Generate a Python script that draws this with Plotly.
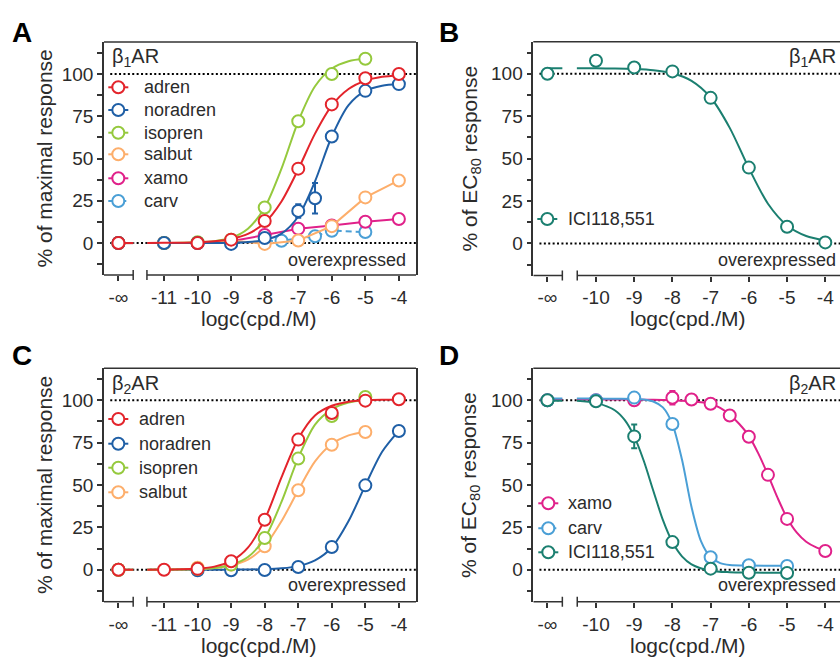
import plotly.graph_objects as go

W, H = 840, 659
FONT = "Liberation Sans, Arial, sans-serif"
TXT = "#2b2b2b"
AX = "#333333"

# ---------------- axis structure (log units) ----------------
NEG_INF_AC, BREAK_END_AC, BREAK_START_AC = -12.36, -11.92, -11.51
XRANGE_AC = [-12.79, -3.49]
NEG_INF_BD, BREAK_END_BD, BREAK_START_BD = -11.27, -10.88, -10.49
XRANGE_BD = [-11.64, -3.615]
YRANGE = [-18.9, 118.9]
TICKS_AC = [-11, -10, -9, -8, -7, -6, -5, -4]
TICKS_BD = [-10, -9, -8, -7, -6, -5, -4]

COL = {"adren": "#e3242b", "noradren": "#1f5fa6", "isopren": "#95c93d",
       "salbut": "#fdae6b", "xamo": "#e0218a", "carv": "#4a9fd6",
       "ICI118,551": "#1b7f70"}

# ---------------- Panel A: beta1AR agonists ----------------
A_adren_x = [-10, -9, -8, -7, -6, -5, -4]
A_adren_y = [0, 2, 13, 44, 82, 97.5, 100]
A_noradren_x = [-11, -10, -9, -8, -7, -6.5, -6, -5, -4]
A_noradren_y = [0, 0, -0.5, 3, 19, 26.5, 63, 90, 94]
A_noradren_err = [0, 0, 0, 0, 4, 9, 0, 0, 0]
A_isopren_x = [-11, -10, -9, -8, -7, -6, -5]
A_isopren_y = [0, 0.5, 2, 21, 72, 100, 109]
A_salbut_x = [-11, -10, -9, -8, -7, -6, -5, -4]
A_salbut_y = [0, 0, 1.5, -0.5, 1.5, 10, 27, 37]
A_xamo_x = [-11, -10, -9, -8, -7, -6, -5, -4]
A_xamo_y = [0, 0, 1, 4.8, 8.5, 10.4, 12.6, 14.2]
A_carv_x = [-11, -10, -9, -7.5, -6.5, -6, -5]
A_carv_y = [0, 0, 0, 1.4, 4, 7.3, 6.5]
A_ninf_y = 0

# fitted curves
A_curve_x = [-11.5, -11, -10.5, -10, -9.5, -9, -8.5, -8, -7.5, -7, -6.5, -6, -5.5, -5, -4.5, -4]
A_adren_fit = [0, 0.1, 0.2, 0.4, 1.0, 2.4, 5.4, 12, 24.6, 43.6, 64.7, 81.3, 91.1, 96, 98.3, 99.3]
A_noradren_fit = [0, 0, 0, 0, 0.06, 0.19, 0.59, 1.85, 5.6, 15.7, 36.5, 63.0, 81.6, 90.0, 93.0, 94.0]
A_isopren_fit_x = [-11.5, -11, -10.5, -10, -9.5, -9, -8.5, -8, -7.5, -7, -6.5, -6, -5.5, -5]
A_isopren_fit = [0.02, 0.05, 0.14, 0.4, 1.1, 3.1, 8.5, 21, 44, 72, 92.7, 103.2, 107.5, 109.1]

# ---------------- Panel B: beta1AR antagonist ----------------
B_x = [-10, -9, -8, -7, -6, -5, -4]
B_ici_y = [107.7, 103.7, 101.4, 85.8, 44.7, 9.8, 0.6]
B_ninf_y = 100
B_curve_x = [-10.5, -10, -9.5, -9, -8.5, -8, -7.5, -7, -6.5, -6, -5.5, -5, -4.5, -4]
B_ici_fit = [103.3, 103.2, 103.1, 102.8, 102.1, 100.3, 95.8, 86.0, 68.1, 44.4, 23.4, 10.6, 4.4, 1.75]

# ---------------- Panel C: beta2AR agonists ----------------
C_adren_x = [-11, -10, -9, -8, -7, -6, -5, -4]
C_adren_y = [0, 0.5, 5, 29.5, 76.8, 92.5, 99.8, 100.6]
C_noradren_x = [-10, -9, -8, -7, -6, -5, -4]
C_noradren_y = [-0.4, -0.3, -0.2, 1.6, 13.4, 49.8, 81.9]
C_isopren_x = [-10, -9, -8, -7, -6, -5]
C_isopren_y = [0.5, 3, 18.7, 65.6, 90.7, 102]
C_salbut_x = [-10, -9, -8, -7, -6, -5]
C_salbut_y = [1.2, 3, 13.8, 46.9, 73.8, 81.3]
C_ninf_y = 0
C_curve_x = [-11.5, -11, -10.5, -10, -9.5, -9, -8.5, -8, -7.5, -7, -6.5, -6, -5.5, -5, -4.5, -4]
C_adren_fit = [0.03, 0.08, 0.2, 0.66, 1.8, 5.0, 13.0, 29.6, 54.5, 77.3, 91.1, 96.8, 99.2, 100.0, 100.3, 100.4]
C_noradren_fit = [0, 0, 0, 0.01, 0.02, 0.04, 0.12, 0.3, 0.8, 2.1, 5.5, 13.1, 28.7, 49.8, 69.6, 82.1]
C_short_x = [-11.5, -11, -10.5, -10, -9.5, -9, -8.5, -8, -7.5, -7, -6.5, -6, -5.5, -5]
C_isopren_fit = [0.02, 0.04, 0.12, 0.35, 1.0, 2.8, 7.5, 18.5, 40.0, 66.0, 85.7, 94.7, 98.7, 100.2]
C_salbut_fit = [0.02, 0.06, 0.15, 0.39, 1.0, 2.5, 6.0, 13.9, 28.6, 46.9, 63.9, 74.2, 79.3, 81.5]

# ---------------- Panel D: beta2AR antagonists ----------------
D_xamo_x = [-10, -9, -8, -7.5, -7, -6.5, -6, -5.5, -5, -4]
D_xamo_y = [100, 100, 101.5, 100.5, 98, 91, 78.5, 56, 30, 11]
D_xamo_err = [0, 0, 4, 2.5, 0, 0, 0, 2, 2, 0]
D_carv_x = [-10, -9, -8, -7, -6, -5]
D_carv_y = [100, 101.6, 86, 7.3, 2.6, 2.2]
D_carv_err = [0, 0, 3, 0, 0, 0]
D_ici_x = [-10, -9, -8, -7, -6, -5]
D_ici_y = [99.4, 78.7, 16.3, 0.6, -1.8, -2]
D_ici_err = [0, 7, 0, 0, 0, 0]
D_ninf_y = 100
D_xamo_fit_x = [-10.5, -10, -9.5, -9, -8.5, -8, -7.5, -7, -6.75, -6.5, -6.25, -6, -5.75, -5.5,
                -5.25, -5, -4.75, -4.5, -4.25, -4]
D_xamo_fit = [100.5, 100.5, 100.5, 100.4, 100.3, 100, 99.5, 98, 95.5, 91.5, 86, 79, 68.5, 56,
              42.5, 30.5, 22, 16.5, 13.3, 11.3]
D_carv_fit_x = [-10.5, -10, -9.5, -9, -8.75, -8.5, -8.25, -8, -7.75, -7.5, -7.25, -7, -6.75,
                -6.5, -6, -5.5, -5]
D_carv_fit = [101, 101, 100.9, 100.8, 100.5, 99.3, 95.8, 86, 65, 37, 16.7, 7.3, 3.9, 2.8, 2.4,
              2.3, 2.3]
D_ici_fit_x = [-10.5, -10, -9.5, -9.25, -9, -8.75, -8.5, -8.25, -8, -7.75, -7.5, -7, -6.5, -6, -5]
D_ici_fit = [99.8, 98.5, 94.0, 88.4, 78.7, 64.3, 46.6, 29.4, 16.3, 7.9, 3.2, -0.6, -1.5, -1.7, -1.8]

fig = go.Figure()

PANELS = {
    "A": dict(xa="x", ya="y", xd=[104 / W, 416 / W], yd=[1 - 275 / H, 1 - 42 / H],
              ninf=NEG_INF_AC, bend=BREAK_END_AC, bstart=BREAK_START_AC, xr=XRANGE_AC,
              ticks=TICKS_AC, right=True),
    "B": dict(xa="x2", ya="y2", xd=[533.3 / W, 1.0], yd=[1 - 275.5 / H, 1 - 41.7 / H],
              ninf=NEG_INF_BD, bend=BREAK_END_BD, bstart=BREAK_START_BD, xr=XRANGE_BD,
              ticks=TICKS_BD, right=False),
    "C": dict(xa="x3", ya="y3", xd=[104 / W, 416 / W], yd=[1 - 601.7 / H, 1 - 368.3 / H],
              ninf=NEG_INF_AC, bend=BREAK_END_AC, bstart=BREAK_START_AC, xr=XRANGE_AC,
              ticks=TICKS_AC, right=True),
    "D": dict(xa="x4", ya="y4", xd=[533.3 / W, 1.0], yd=[1 - 601.7 / H, 1 - 368.3 / H],
              ninf=NEG_INF_BD, bend=BREAK_END_BD, bstart=BREAK_START_BD, xr=XRANGE_BD,
              ticks=TICKS_BD, right=False),
}


def add_series(panel, name, px, py, ninf_y, plateau, err=None, fit_x=None, fit_y=None, dash="solid"):
    p = PANELS[panel]
    c = COL[name]
    ax = dict(xaxis=p["xa"], yaxis=p["ya"], showlegend=False, hoverinfo="skip")
    # -inf segment (plateau of the curve drawn in the broken-off part)
    fig.add_trace(go.Scatter(x=[p["ninf"], p["bend"]], y=[plateau, plateau], mode="lines",
                             line=dict(color=c, width=2, dash=dash), **ax))
    # curve
    if fit_x is not None:
        fig.add_trace(go.Scatter(x=fit_x, y=fit_y, mode="lines",
                                 line=dict(color=c, width=2, shape="spline", smoothing=0.8), **ax))
    else:
        fig.add_trace(go.Scatter(x=[p["bstart"]] + list(px), y=[py[0]] + list(py), mode="lines",
                                 line=dict(color=c, width=2, dash=dash), **ax))
    mk = dict(symbol="circle", size=12, color="white", line=dict(color=c, width=2))
    # -inf point
    fig.add_trace(go.Scatter(x=[p["ninf"]], y=[ninf_y], mode="markers", marker=mk, **ax))
    ekw = {}
    if err is not None:
        ekw["error_y"] = dict(type="data", array=err, visible=True, color=c, thickness=2, width=3)
    fig.add_trace(go.Scatter(x=px, y=py, mode="markers", marker=mk, **ekw, **ax))


# Panel A (draw order: adren on top)
add_series("A", "carv", A_carv_x, A_carv_y, A_ninf_y, 0, dash="6px,4px")
add_series("A", "xamo", A_xamo_x, A_xamo_y, A_ninf_y, 0)
add_series("A", "salbut", A_salbut_x, A_salbut_y, A_ninf_y, 0)
add_series("A", "isopren", A_isopren_x, A_isopren_y, A_ninf_y, 0, fit_x=A_isopren_fit_x, fit_y=A_isopren_fit)
add_series("A", "noradren", A_noradren_x, A_noradren_y, A_ninf_y, 0, err=A_noradren_err,
           fit_x=A_curve_x, fit_y=A_noradren_fit)
add_series("A", "adren", A_adren_x, A_adren_y, A_ninf_y, 0, fit_x=A_curve_x, fit_y=A_adren_fit)
# Panel B
add_series("B", "ICI118,551", B_x, B_ici_y, B_ninf_y, B_ici_fit[0], fit_x=B_curve_x, fit_y=B_ici_fit)
# Panel C
add_series("C", "noradren", C_noradren_x, C_noradren_y, C_ninf_y, 0, fit_x=C_curve_x, fit_y=C_noradren_fit)
add_series("C", "salbut", C_salbut_x, C_salbut_y, C_ninf_y, 0, fit_x=C_short_x, fit_y=C_salbut_fit)
add_series("C", "isopren", C_isopren_x, C_isopren_y, C_ninf_y, 0, fit_x=C_short_x, fit_y=C_isopren_fit)
add_series("C", "adren", C_adren_x, C_adren_y, C_ninf_y, 0, fit_x=C_curve_x, fit_y=C_adren_fit)
# Panel D
add_series("D", "xamo", D_xamo_x, D_xamo_y, D_ninf_y, D_xamo_fit[0], err=D_xamo_err,
           fit_x=D_xamo_fit_x, fit_y=D_xamo_fit)
add_series("D", "carv", D_carv_x, D_carv_y, D_ninf_y, D_carv_fit[0], err=D_carv_err,
           fit_x=D_carv_fit_x, fit_y=D_carv_fit)
add_series("D", "ICI118,551", D_ici_x, D_ici_y, D_ninf_y, D_ici_fit[0], err=D_ici_err,
           fit_x=D_ici_fit_x, fit_y=D_ici_fit)

shapes, annots = [], []
layout_axes = {}
for key, p in PANELS.items():
    xn = "xaxis" + p["xa"][1:]
    yn = "yaxis" + p["ya"][1:]
    layout_axes[xn] = dict(domain=p["xd"], range=p["xr"], anchor=p["ya"], showline=False,
                           showgrid=False, zeroline=False, ticks="outside", ticklen=5,
                           tickwidth=1.5, tickcolor=AX,
                           tickvals=[p["ninf"]] + p["ticks"],
                           ticktext=["-∞"] + [str(t) for t in p["ticks"]],
                           tickfont=dict(family=FONT, size=19, color=TXT))
    layout_axes[yn] = dict(domain=p["yd"], range=YRANGE, anchor=p["xa"], showline=True,
                           linecolor=AX, linewidth=1.5, mirror=p["right"], showgrid=False,
                           zeroline=False, ticks="outside", ticklen=5, tickwidth=1.5,
                           tickcolor=AX, tick0=0, dtick=25,
                           minor=dict(dtick=12.5, tick0=0, ticks="outside", ticklen=5,
                                      tickwidth=1.5, tickcolor=AX, showgrid=False),
                           tickfont=dict(family=FONT, size=19, color=TXT))
    xr, yr = p["xa"], p["ya"]
    # top frame line
    shapes.append(dict(type="line", xref=xr + " domain", yref=yr + " domain", x0=0, x1=1, y0=1, y1=1,
                       line=dict(color=AX, width=1.5)))
    # broken bottom axis
    shapes.append(dict(type="line", xref=xr, yref=yr + " domain", x0=p["xr"][0], x1=p["bend"],
                       y0=0, y1=0, line=dict(color=AX, width=1.5)))
    shapes.append(dict(type="line", xref=xr, yref=yr + " domain", x0=p["bstart"], x1=p["xr"][1],
                       y0=0, y1=0, line=dict(color=AX, width=1.5)))
    for bx in (p["bend"], p["bstart"]):
        shapes.append(dict(type="line", xref=xr, yref=yr + " domain", x0=bx, x1=bx,
                           y0=-0.0215, y1=0.0215, line=dict(color=AX, width=1.5)))
    # dotted reference lines at 0 and 100
    for yv in (0, 100):
        shapes.append(dict(type="line", xref=xr + " domain", yref=yr, x0=0.02, x1=1, y0=yv, y1=yv,
                           layer="below", line=dict(color="#000000", width=2, dash="2px,2.4px")))


def ann(text, x, y, size=18, xanchor="center", yanchor="middle", weight="normal", angle=0, color=TXT):
    annots.append(dict(text=text, x=x / W, y=1 - y / H, xref="paper", yref="paper",
                       xanchor=xanchor, yanchor=yanchor, showarrow=False, textangle=angle,
                       font=dict(family=FONT, size=size, color=color, weight=weight)))


# panel letters
for letter, lx, ly in (("A", 22, 33), ("B", 449, 33), ("C", 22, 355), ("D", 449, 355)):
    ann(letter, lx, ly, size=28, weight="bold", color="#000000")

# axis titles
ann("% of maximal response", 44, 158.5, size=21, angle=-90)
ann("% of EC<sub>80</sub> response", 470, 158.5, size=21, angle=-90)
ann("% of maximal response", 44, 485, size=21, angle=-90)
ann("% of EC<sub>80</sub> response", 470, 485, size=21, angle=-90)
ann("logc(cpd./M)", 259, 318, size=21)
ann("logc(cpd./M)", 688, 318, size=21)
ann("logc(cpd./M)", 259, 645, size=21)
ann("logc(cpd./M)", 688, 645, size=21)

# receptor labels and notes
ann("β<sub>1</sub>AR", 110, 57, size=20, xanchor="left")
ann("β<sub>1</sub>AR", 838, 57, size=20, xanchor="right")
ann("β<sub>2</sub>AR", 110, 384, size=20, xanchor="left")
ann("β<sub>2</sub>AR", 838, 384, size=20, xanchor="right")
ann("overexpressed", 408, 260, xanchor="right")
ann("overexpressed", 838, 260, xanchor="right")
ann("overexpressed", 408, 585, xanchor="right")
ann("overexpressed", 838, 585, xanchor="right")

# manual legends
LEGENDS = [
    (118.3, 141.7, [87.3, 110, 132.7, 154.3, 178.3, 201],
     ["adren", "noradren", "isopren", "salbut", "xamo", "carv"]),
    (547.3, 566.0, [219], ["ICI118,551"]),
    (118.3, 137.0, [419, 443.7, 467.7, 492.3], ["adren", "noradren", "isopren", "salbut"]),
    (548.3, 566.0, [503.3, 528.3, 552.3], ["xamo", "carv", "ICI118,551"]),
]
for cx, tx, ys, names in LEGENDS:
    for yy, nm in zip(ys, names):
        c = COL[nm]
        dash = "4px,3px" if nm == "carv" else "solid"
        shapes.append(dict(type="line", xref="paper", yref="paper", x0=(cx - 10) / W, x1=(cx + 10) / W,
                           y0=1 - yy / H, y1=1 - yy / H, line=dict(color=c, width=2, dash=dash)))
        shapes.append(dict(type="circle", xref="paper", yref="paper", xsizemode="pixel",
                           ysizemode="pixel", xanchor=cx / W, yanchor=1 - yy / H,
                           x0=-6, x1=6, y0=-6, y1=6, fillcolor="white", line=dict(color=c, width=2)))
        ann(nm, tx, yy, xanchor="left")

fig.update_layout(width=W, height=H, margin=dict(l=0, r=0, t=0, b=0),
                  paper_bgcolor="white", plot_bgcolor="white", showlegend=False,
                  shapes=shapes, annotations=annots, **layout_axes)

fig.write_html("out.html")
